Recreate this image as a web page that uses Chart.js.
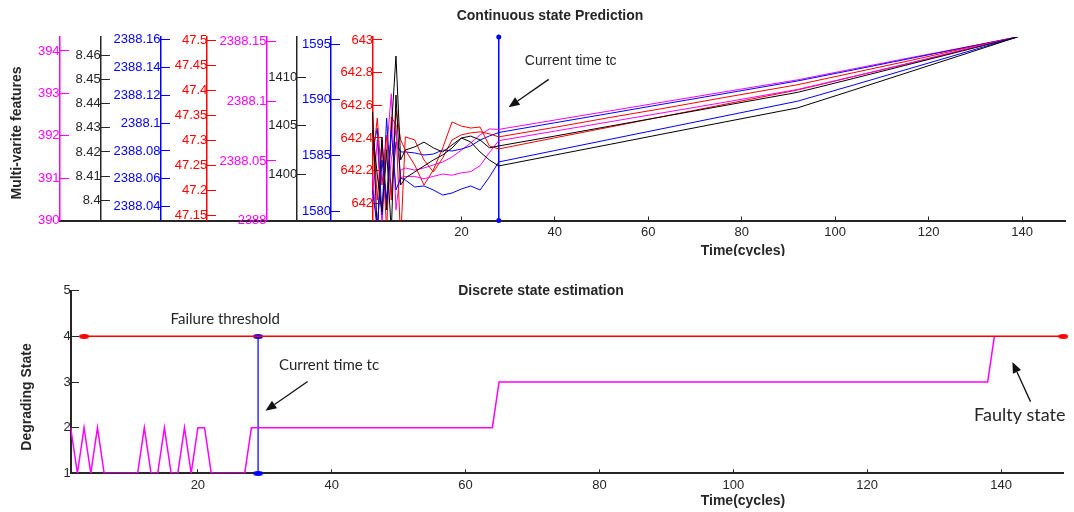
<!DOCTYPE html>
<html>
<head>
<meta charset="utf-8">
<script src="https://cdn.jsdelivr.net/npm/chart.js@4.4.1/dist/chart.umd.min.js"></script>
<style>
  html, body { margin: 0; padding: 0; background: #fff; }
  .box { position: relative; width: 1074px; height: 256px; }
  canvas { display: block; }
</style>
</head>
<body>
<div class="box"><canvas id="continuous" width="1074" height="256"></canvas></div>
<div class="box"><canvas id="discrete" width="1074" height="256"></canvas></div>
<script>
// ---- top panel: predicted features, each read on its own axis ----
const cycles = [1, 2, 3, 4, 5, 6, 7, 8, 10, 12, 14, 16, 18, 20, 22, 24, 26, 28, 40, 52, 64, 76, 92, 104, 116, 128, 139];

const magentaUpper = [390.48, 391.90, 389.90, 391.66, 392.99, 390.25, 391.19, 391.24, 391.19, 391.24, 391.31, 391.38, 391.50, 391.66, 391.83, 392.02, 392.16, 392.15, 392.37, 392.59, 392.81, 393.03, 393.32, 393.58, 393.84, 394.09, 394.33];
const blackUpper = [8.4366, 8.3850, 8.4262, 8.3959, 8.4291, 8.4599, 8.4167, 8.4208, 8.4221, 8.4241, 8.4217, 8.4200, 8.4229, 8.4258, 8.4266, 8.4250, 8.4217, 8.4225, 8.4266, 8.4308, 8.4350, 8.4392, 8.4448, 8.4506, 8.4565, 8.4624, 8.4678];
const blueUpper = [2388.0807, 2388.0965, 2388.0340, 2388.1037, 2388.0483, 2388.0865, 2388.0793, 2388.0793, 2388.0786, 2388.0771, 2388.0778, 2388.0807, 2388.0800, 2388.0814, 2388.0836, 2388.0879, 2388.0908, 2388.0933, 2388.1003, 2388.1072, 2388.1142, 2388.1211, 2388.1304, 2388.1384, 2388.1465, 2388.1546, 2388.1620];
const redUpper = [47.341, 47.181, 47.301, 47.120, 47.347, 47.331, 47.100, 47.307, 47.301, 47.261, 47.237, 47.265, 47.301, 47.311, 47.315, 47.317, 47.313, 47.307, 47.326, 47.346, 47.365, 47.385, 47.411, 47.435, 47.459, 47.484, 47.506];
const magentaLower = [2388.038, 2387.990, 2388.068, 2388.013, 2388.051, 2388.076, 2388.036, 2388.037, 2388.037, 2388.035, 2388.037, 2388.039, 2388.038, 2388.040, 2388.041, 2388.046, 2388.057, 2388.067, 2388.075, 2388.083, 2388.091, 2388.099, 2388.110, 2388.121, 2388.132, 2388.144, 2388.154];
const blackLower = [1404.57, 1399.90, 1396.06, 1402.50, 1394.00, 1408.20, 1398.86, 1399.59, 1400.21, 1400.84, 1401.46, 1401.98, 1402.70, 1403.74, 1403.33, 1402.29, 1401.46, 1400.84, 1401.97, 1403.10, 1404.24, 1405.37, 1406.87, 1408.73, 1410.61, 1412.49, 1414.22];
const blueLower = [1581.94, 1578.50, 1584.62, 1581.04, 1587.31, 1581.94, 1583.01, 1582.83, 1582.21, 1582.30, 1581.94, 1581.49, 1581.67, 1582.03, 1582.30, 1581.94, 1583.10, 1584.45, 1585.47, 1586.49, 1587.51, 1588.53, 1589.89, 1591.34, 1592.81, 1594.28, 1595.63];
const redLower = [642.265, 642.522, 642.112, 642.418, 642.020, 642.571, 642.388, 642.326, 642.235, 642.112, 642.204, 642.339, 642.498, 642.473, 642.461, 642.467, 642.351, 642.333, 642.401, 642.468, 642.536, 642.604, 642.694, 642.776, 642.859, 642.942, 643.018];

const ticksMagentaUpper = ['390', '391', '392', '393', '394'];
const ticksBlackUpper = ['8.4', '8.41', '8.42', '8.43', '8.44', '8.45', '8.46'];
const ticksBlueUpper = ['2388.04', '2388.06', '2388.08', '2388.1', '2388.12', '2388.14', '2388.16'];
const ticksRedUpper = ['47.15', '47.2', '47.25', '47.3', '47.35', '47.4', '47.45', '47.5'];
const ticksMagentaLower = ['2388', '2388.05', '2388.1', '2388.15'];
const ticksBlackLower = ['1400', '1405', '1410'];
const ticksBlueLower = ['1580', '1585', '1590', '1595'];
const ticksRedLower = ['642', '642.2', '642.4', '642.6', '642.8', '643'];

const timeTicks = [20, 40, 60, 80, 100, 120, 140];
const currentTimeTop = 28;

// ---- bottom panel: discrete degrading state ----
const stateCycles = [1, 2, 3, 4, 5, 6, 7, 8, 9, 10, 11, 12, 13, 14, 15, 16, 17, 18, 19, 20, 21, 22, 23, 24, 25, 26, 27, 28, 64, 65, 138, 139];
const stateValues = [2, 1, 2, 1, 2, 1, 1, 1, 1, 1, 1, 2, 1, 1, 2, 1, 1, 2, 1, 2, 2, 1, 1, 1, 1, 1, 1, 2, 2, 3, 3, 4];
const thresholdCycles = [3, 149.3];
const failureThreshold = 4;
const currentTimeBottom = 29;
const stateTicks = ['1', '2', '3', '4', '5'];

const ink = '#262626';
const MAGENTA = '#ff00ff', BLACK = '#000000', BLUE = '#0000ff', RED = '#ff0000';
const tickFont = { family: 'Liberation Sans, Arial, sans-serif', size: 13 };

function dot(color, w, h) {
  const c = document.createElement('canvas');
  c.width = w; c.height = h;
  const g = c.getContext('2d');
  g.fillStyle = color;
  g.beginPath();
  g.ellipse(w / 2, h / 2, w / 2, h / 2, 0, 0, Math.PI * 2);
  g.fill();
  return c;
}

function drawArrow(ctx, x1, y1, x2, y2) {
  const a = Math.atan2(y2 - y1, x2 - x1), L = 11, W = 4.5;
  const bx = x2 - L * Math.cos(a), by = y2 - L * Math.sin(a);
  ctx.beginPath();
  ctx.moveTo(x1, y1);
  ctx.lineTo(bx, by);
  ctx.stroke();
  ctx.beginPath();
  ctx.moveTo(x2, y2);
  ctx.lineTo(bx + W * Math.sin(a), by - W * Math.cos(a));
  ctx.lineTo(bx - W * Math.sin(a), by + W * Math.cos(a));
  ctx.closePath();
  ctx.fill();
}

// texts and arrows: px/py are canvas pixels, x/y are values on the x scale and opts.yAxis
const annotate = {
  id: 'annotate',
  afterDraw(chart, args, opts) {
    const ctx = chart.ctx;
    const sx = chart.scales.x, sy = chart.scales[opts.yAxis];
    const X = t => t.px !== undefined ? t.px : sx.getPixelForValue(t.x);
    const Y = t => t.py !== undefined ? t.py : sy.getPixelForValue(t.y);
    ctx.save();
    (opts.texts || []).forEach(t => {
      ctx.save();
      ctx.translate(X(t), Y(t));
      if (t.rot) ctx.rotate(t.rot);
      ctx.font = t.font;
      ctx.fillStyle = t.color || ink;
      ctx.textAlign = 'center';
      ctx.textBaseline = 'middle';
      ctx.fillText(t.text, 0, 0);
      ctx.restore();
    });
    ctx.strokeStyle = '#111';
    ctx.fillStyle = '#111';
    ctx.lineWidth = 1.3;
    (opts.arrows || []).forEach(a => {
      drawArrow(ctx, X(a.from), Y(a.from), X(a.to), Y(a.to));
    });
    ctx.restore();
  }
};

function sideAxis(color, min, max, labels, at) {
  return {
    axis: 'y',
    type: 'linear',
    min: min,
    max: max,
    position: { x: at },
    afterBuildTicks: s => { s.ticks = labels.map(l => ({ value: parseFloat(l) })); },
    ticks: { color: color, font: tickFont, padding: 12, autoSkip: false, callback: (v, i) => labels[i] },
    grid: { drawOnChartArea: false, tickLength: -10, color: color, lineWidth: 1 },
    border: { color: color, width: 1.5 }
  };
}

function timeAxis(min, max, height) {
  return {
    type: 'linear',
    min: min,
    max: max,
    position: 'bottom',
    afterBuildTicks: s => { s.ticks = timeTicks.map(v => ({ value: v })); },
    afterFit: s => { s.height = height; },
    ticks: { color: ink, font: tickFont, padding: 8, autoSkip: false, maxRotation: 0, callback: v => String(v) },
    grid: { drawOnChartArea: false, tickLength: -4, color: ink, lineWidth: 1 },
    border: { color: ink, width: 2 }
  };
}

function series(values, axisId, color) {
  return {
    data: cycles.map((c, i) => ({ x: c, y: values[i] })),
    yAxisID: axisId,
    borderColor: color,
    borderWidth: 1,
    pointRadius: 0,
    tension: 0
  };
}

const xMinTop = -66;
const topAxis = 'yMagentaUpper';

new Chart(document.getElementById('continuous'), {
  type: 'line',
  data: {
    datasets: [
      series(blackLower, 'yBlackLower', BLACK),
      series(blueLower, 'yBlueLower', BLUE),
      series(blackUpper, 'yBlackUpper', BLACK),
      series(magentaLower, 'yMagentaLower', MAGENTA),
      series(redLower, 'yRedLower', RED),
      series(redUpper, 'yRedUpper', RED),
      series(blueUpper, 'yBlueUpper', BLUE),
      series(magentaUpper, 'yMagentaUpper', MAGENTA),
      {
        data: [{ x: currentTimeTop, y: 390 }, { x: currentTimeTop, y: 394.33 }],
        yAxisID: topAxis,
        borderColor: BLUE,
        backgroundColor: BLUE,
        borderWidth: 1.5,
        pointRadius: 2.5,
        pointBorderWidth: 0,
        clip: false
      }
    ]
  },
  options: {
    responsive: false,
    animation: false,
    events: [],
    layout: { padding: { left: 59.6, right: 9, top: 37, bottom: 0 } },
    plugins: {
      legend: { display: false },
      tooltip: { enabled: false },
      annotate: {
        yAxis: topAxis,
        texts: [
          { text: 'Continuous state Prediction', px: 550, py: 16, font: 'bold 14px "Liberation Sans", Arial, sans-serif' },
          { text: 'Multi-varite features', px: 17, py: 133, rot: -Math.PI / 2, font: 'bold 14px "Liberation Sans", Arial, sans-serif' },
          { text: 'Time(cycles)', px: 743, py: 251, font: 'bold 14px "Liberation Sans", Arial, sans-serif' },
          { text: 'Current time tc', x: 43.4, y: 393.75, font: '14px "Liberation Sans", Arial, sans-serif' }
        ],
        arrows: [
          { from: { x: 38.7, y: 393.33 }, to: { x: 30.1, y: 392.67 } }
        ]
      }
    },
    scales: {
      x: timeAxis(xMinTop, 149.2, 35.5),
      yMagentaUpper: sideAxis(MAGENTA, 390, 394.33, ticksMagentaUpper, xMinTop),
      yBlackUpper: sideAxis(ink, 8.3915, 8.4678, ticksBlackUpper, -57.2),
      yBlueUpper: sideAxis(BLUE, 2388.030, 2388.162, ticksBlueUpper, -44.4),
      yRedUpper: sideAxis(RED, 47.1404, 47.506, ticksRedUpper, -34.4),
      yMagentaLower: sideAxis(MAGENTA, 2388.0, 2388.154, ticksMagentaLower, -21.7),
      yBlackLower: sideAxis(ink, 1395.18, 1414.22, ticksBlackLower, -15.15),
      yBlueLower: sideAxis(BLUE, 1579.21, 1595.63, ticksBlueLower, -7.9),
      yRedLower: sideAxis(RED, 641.895, 643.018, ticksRedLower, 1.1)
    }
  },
  plugins: [annotate]
});

new Chart(document.getElementById('discrete'), {
  type: 'line',
  data: {
    datasets: [
      {
        data: thresholdCycles.map(c => ({ x: c, y: failureThreshold })),
        borderColor: RED,
        borderWidth: 1.5,
        pointStyle: dot(RED, 10, 5),
        pointRadius: 5,
        clip: false
      },
      {
        data: stateCycles.map((c, i) => ({ x: c, y: stateValues[i] })),
        borderColor: MAGENTA,
        borderWidth: 1.5,
        pointRadius: 0,
        tension: 0
      },
      {
        data: [{ x: currentTimeBottom, y: 1 }, { x: currentTimeBottom, y: failureThreshold }],
        borderColor: '#3030ff',
        borderWidth: 1.5,
        pointStyle: dot(BLUE, 10, 5),
        pointRadius: 5,
        clip: false
      }
    ]
  },
  options: {
    responsive: false,
    animation: false,
    events: [],
    layout: { padding: { left: 70.7, right: 10.7, top: 34.7, bottom: 0 } },
    plugins: {
      legend: { display: false },
      tooltip: { enabled: false },
      annotate: {
        yAxis: 'y',
        texts: [
          { text: 'Discrete state estimation', px: 541, py: 35, font: 'bold 14px "Liberation Sans", Arial, sans-serif' },
          { text: 'Degrading State', px: 27, py: 141, rot: -Math.PI / 2, font: 'bold 14px "Liberation Sans", Arial, sans-serif' },
          { text: 'Time(cycles)', px: 743, py: 245, font: 'bold 14px "Liberation Sans", Arial, sans-serif' },
          { text: 'Failure threshold', x: 24.1, y: 4.38, font: '15px Lato, "Open Sans", sans-serif' },
          { text: 'Current time tc', x: 39.6, y: 3.37, font: '15px Lato, "Open Sans", sans-serif' },
          { text: 'Faulty state', x: 142.8, y: 2.28, font: '18px Lato, "Open Sans", sans-serif' }
        ],
        arrows: [
          { from: { x: 36.4, y: 3.01 }, to: { x: 30.1, y: 2.37 } },
          { from: { x: 144.4, y: 2.57 }, to: { x: 141.7, y: 3.44 } }
        ]
      }
    },
    scales: {
      x: timeAxis(1, 149.3, 38.7),
      y: {
        type: 'linear',
        min: 1,
        max: 5,
        position: { x: 1 },
        afterBuildTicks: s => { s.ticks = stateTicks.map(l => ({ value: parseFloat(l) })); },
        ticks: { color: ink, font: tickFont, padding: 12, autoSkip: false, callback: (v, i) => stateTicks[i] },
        grid: { drawOnChartArea: false, tickLength: -9, color: ink, lineWidth: 1 },
        border: { color: ink, width: 2 }
      }
    }
  },
  plugins: [annotate]
});
</script>
</body>
</html>
